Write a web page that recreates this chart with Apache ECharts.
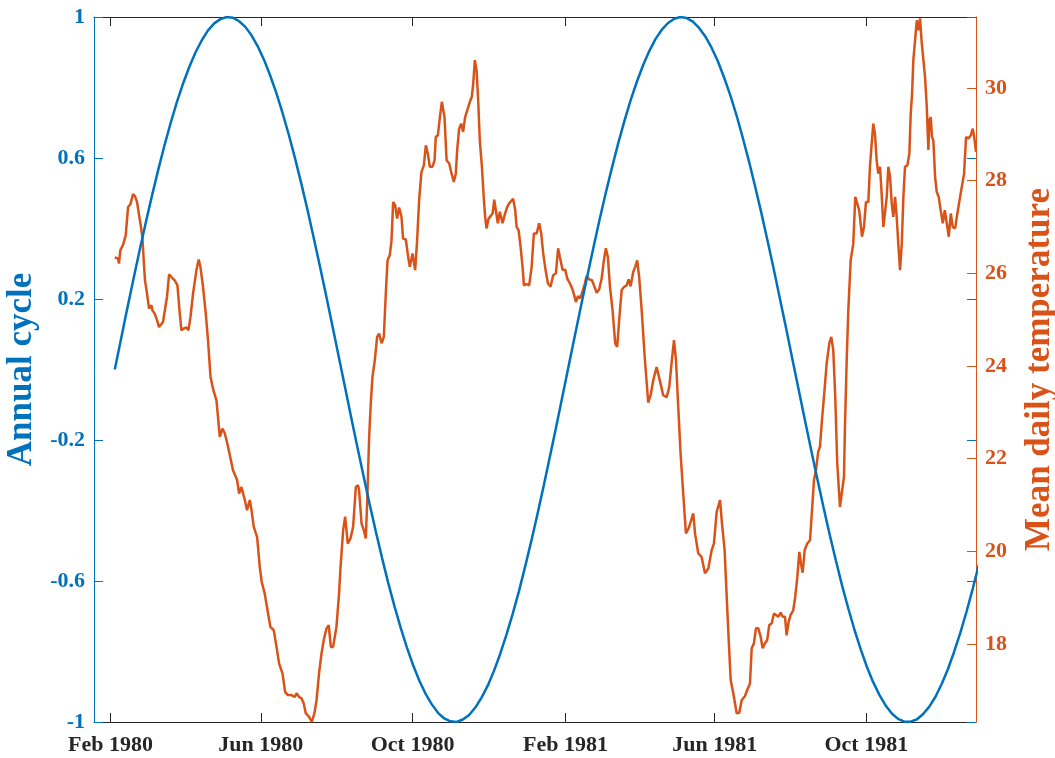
<!DOCTYPE html>
<html>
<head>
<meta charset="utf-8">
<title>Annual cycle vs mean daily temperature</title>
<script src="https://cdn.jsdelivr.net/npm/echarts@6/dist/echarts.min.js"></script>
<style>
	html, body { margin: 0; padding: 0; background: #fff; }
	#chart { width: 1055px; height: 758px; }
</style>
</head>
<body>
<div id="chart"></div>
<script>
// days are counted from 1 Feb 1980
var dayZero = Date.UTC(1980, 1, 1);
var DAY = 86400000;

// annual cycle, one reading every 5 days from day 3.5
var cycleStartDay = 3.5;
var cycleStepDays = 5;
var cycleValues = [
	0, 0.086, 0.172, 0.256, 0.338, 0.418, 0.494, 0.567, 0.636, 0.700,
	0.759, 0.812, 0.859, 0.900, 0.934, 0.962, 0.982, 0.994, 1.000, 0.998,
	0.988, 0.972, 0.948, 0.917, 0.879, 0.834, 0.784, 0.727, 0.666, 0.599,
	0.528, 0.453, 0.374, 0.293, 0.210, 0.125, 0.039, -0.047, -0.133, -0.218,
	-0.301, -0.382, -0.460, -0.535, -0.606, -0.672, -0.733, -0.789, -0.839, -0.883,
	-0.920, -0.950, -0.974, -0.990, -0.998, -1.000, -0.993, -0.980, -0.959, -0.931,
	-0.897, -0.855, -0.807, -0.753, -0.694, -0.630, -0.560, -0.487, -0.410, -0.330,
	-0.247, -0.163, -0.077, 0.009, 0.095, 0.180, 0.264, 0.346, 0.426, 0.502,
	0.574, 0.643, 0.706, 0.765, 0.817, 0.864, 0.904, 0.938, 0.964, 0.983,
	0.995, 1.000, 0.997, 0.987, 0.969, 0.945, 0.913, 0.875, 0.829, 0.779,
	0.722, 0.659, 0.592, 0.520, 0.445, 0.366, 0.285, 0.201, 0.116, 0.030,
	-0.056, -0.142, -0.226, -0.309, -0.390, -0.468, -0.542, -0.613, -0.678, -0.739,
	-0.794, -0.844, -0.887, -0.923, -0.953, -0.976, -0.991, -0.999, -0.999, -0.993,
	-0.978, -0.957, -0.929, -0.893, -0.851, -0.802, -0.748, -0.688, -0.623, -0.553
];

// mean daily temperature
var tempDays = [3.5,6.1,6.9,8.0,10.1,12.3,14.2,16.1,18.2,19.8,21.4,23.0,24.1,25.7,26.8,27.8,29.4,31.1,33.0,33.8,35.6,37.5,39.1,40.7,42.3,43.9,45.5,47.2,49.1,51.7,53.9,55.8,57.1,59.0,61.2,62.8,64.4,66.5,69.2,71.0,72.4,74.5,76.7,78.5,80.5,82.6,85.3,88.0,90.1,92.0,94.6,98.6,101.9,103.5,105.4,108.1,109.9,112.1,113.5,115.3,118.0,120.1,121.7,124.1,126.8,128.7,131.4,133.6,135.7,138.4,140.5,142.7,145.6,148.3,149.7,151.8,153.7,155.5,157.1,159.8,162.0,164.1,165.8,167.8,169.8,171.6,173.8,175.6,177.3,179.1,181.8,183.9,185.1,187.2,188.8,190.9,193.1,195.2,197.4,199.2,200.0,202.0,203.8,205.4,206.5,208.1,209.4,210.8,212.7,214.5,216.1,218.1,219.9,221.5,222.9,224.7,226.1,227.4,229.0,230.6,232.2,234.1,235.4,237.6,239.5,240.8,243.0,245.1,246.7,248.3,250.2,252.1,253.7,255.3,256.9,259.1,260.7,261.7,263.4,265.0,266.6,268.7,270.4,272.5,274.4,276.2,277.8,278.9,280.5,282.1,283.7,285.3,287.5,289.1,290.7,291.8,293.1,294.5,295.8,297.1,298.8,300.4,301.4,302.5,304.2,305.8,307.4,308.7,310.0,311.6,313.2,315.4,317.0,319.1,320.7,322.3,323.9,325.6,326.7,328.3,329.9,331.5,332.6,334.7,336.8,338.8,340.6,342.8,344.9,346.5,348.1,350.0,351.9,354.0,356.1,358.3,360.1,361.5,363.7,365.8,367.4,369.6,371.7,373.0,374.4,376.0,377.6,379.2,381.6,383.0,385.1,387.3,388.9,391.1,393.1,395.1,396.9,398.5,400.1,401.8,403.9,406.0,407.6,409.2,411.2,413.3,415.2,416.8,418.4,420.5,422.1,423.7,425.3,427.3,429.9,432.6,434.5,436.6,439.3,440.9,442.5,444.6,447.4,449.5,451.6,453.3,454.9,456.7,458.6,460.7,462.9,465.1,467.5,468.8,470.2,472.8,475.5,478.2,480.9,483.6,485.4,487.6,490.3,491.9,494.0,495.7,497.3,498.9,501.0,503.7,505.8,507.7,510.4,512.2,514.4,515.8,517.6,519.2,521.1,523.0,524.6,526.5,528.3,529.9,531.9,533.7,535.3,537.2,539.1,540.7,542.6,543.9,545.5,547.1,549.2,550.8,552.5,554.1,555.4,556.8,558.4,560.5,562.7,564.3,565.9,567.5,569.3,570.7,572.3,573.9,576.1,578.2,579.8,581.4,583.0,584.6,586.8,588.4,590.0,590.8,592.2,593.5,595.4,597.5,599.1,600.7,602.3,604.5,606.1,607.7,609.6,610.9,612.3,613.6,614.9,616.3,617.6,619.0,620.3,621.7,623.3,624.4,625.7,627.1,628.4,629.7,631.1,632.4,633.7,635.1,636.5,637.8,639.1,641.0,642.6,643.7,644.8,645.8,647.2,648.6,649.8,651.2,652.5,653.8,655.2,656.6,657.9,658.7,659.8,660.8,661.9,663.3,664.6,666.2,667.8,669.5,671.1,672.7,674.3,675.9,677.5,679.4,681.2,683.4,685.0,686.6,688.2,690.1,692.0,693.6,694.9,696.2];
var tempValues = [26.34,26.32,26.21,26.50,26.61,26.82,27.43,27.49,27.71,27.66,27.54,27.51,27.08,26.79,26.28,25.85,25.57,25.24,25.31,25.20,25.13,24.99,24.84,24.83,24.95,24.99,25.49,25.98,25.92,25.85,25.74,25.13,24.77,24.81,24.83,24.77,25.06,25.57,26.07,26.30,26.14,25.71,25.13,24.56,23.77,23.50,23.26,22.47,22.65,22.55,22.26,21.75,21.54,21.25,21.39,21.11,20.89,21.11,20.89,20.53,20.31,19.67,19.34,19.09,18.66,18.37,18.30,17.94,17.58,17.37,16.97,16.90,16.90,16.86,16.94,16.86,16.83,16.72,16.51,16.43,16.32,16.51,16.79,17.37,17.80,18.09,18.34,18.41,17.94,17.94,18.37,19.09,19.67,20.46,20.75,20.17,20.28,20.53,21.39,21.43,21.32,20.60,20.46,20.28,21.04,22.47,23.19,23.77,24.13,24.63,24.70,24.49,24.63,25.57,26.28,26.39,26.71,27.54,27.47,27.18,27.42,27.22,26.75,26.73,26.35,26.14,26.43,26.07,26.71,27.58,28.19,28.33,28.76,28.58,28.30,28.30,28.44,28.94,28.98,29.37,29.70,29.37,28.44,28.37,28.15,27.97,28.15,28.66,29.12,29.23,29.05,29.37,29.56,29.70,29.81,30.09,30.60,30.38,29.73,28.87,28.30,27.58,27.22,26.97,27.18,27.20,27.29,27.59,27.36,27.08,27.33,27.08,27.25,27.43,27.51,27.47,27.61,27.36,27.00,26.93,26.57,26.14,25.74,25.77,25.74,26.14,26.86,26.86,27.08,26.86,26.43,26.07,25.78,25.71,25.96,26.00,26.54,26.35,26.07,26.08,25.89,25.78,25.65,25.53,25.38,25.51,25.46,25.56,25.78,25.94,25.87,25.85,25.74,25.58,25.65,25.89,26.28,26.54,26.35,25.71,25.20,24.49,24.41,24.99,25.64,25.71,25.74,25.87,25.72,26.03,26.14,26.28,25.92,25.20,24.13,23.21,23.37,23.69,23.98,23.95,23.62,23.37,23.33,23.55,24.13,24.56,24.13,23.12,22.11,21.25,20.39,20.50,20.71,20.82,20.39,19.96,19.88,19.53,19.63,20.03,20.17,20.85,21.11,20.60,20.03,19.02,18.09,17.22,16.94,16.51,16.52,16.79,16.88,17.01,17.15,17.91,18.02,18.34,18.34,18.16,17.91,18.02,18.09,18.41,18.45,18.66,18.70,18.59,18.68,18.59,18.59,18.19,18.48,18.63,18.73,19.02,19.45,19.99,19.74,19.54,20.03,20.17,20.24,20.28,21.54,21.75,22.15,22.26,22.83,23.33,24.06,24.49,24.63,24.34,23.33,21.90,20.96,20.96,21.61,22.69,24.13,25.20,26.28,26.64,27.65,27.69,27.36,26.79,27.00,27.54,27.54,28.30,28.80,29.23,29.02,28.44,28.15,28.30,27.72,27.00,27.00,27.65,28.30,28.08,27.51,27.22,27.65,27.22,26.64,26.07,26.64,27.65,28.30,28.33,28.58,29.45,29.88,30.60,31.03,31.46,31.24,31.50,30.99,30.96,30.24,29.59,28.66,29.30,29.37,28.94,28.87,28.08,27.76,27.65,27.36,27.08,27.36,27.08,26.79,27.29,27.00,26.97,27.29,27.65,27.69,28.15,28.94,28.91,28.98,29.12,28.91,28.62];

// tick labels
var monthNames = ['Jan','Feb','Mar','Apr','May','Jun','Jul','Aug','Sep','Oct','Nov','Dec'];
var xTickDates = [[1980,1],[1980,5],[1980,9],[1981,1],[1981,5],[1981,9]];
var cycleTicks = [-1, -0.6, -0.2, 0.2, 0.6, 1];
var tempTicks = [18, 20, 22, 24, 26, 28, 30];

var BLUE = '#0072BD';
var ORANGE = '#D95319';
var DARK = '#262626';
var FONT = 'Liberation Serif';

function dayToTime(d) {
	return dayZero + d * DAY;
}

function buildCycleData() {
	var out = [];
	for (var i = 0; i < cycleValues.length; i++) {
		out.push([dayToTime(cycleStartDay + i * cycleStepDays), cycleValues[i]]);
	}
	return out;
}

function buildTempData() {
	var out = [];
	for (var i = 0; i < tempDays.length; i++) {
		out.push([dayToTime(tempDays[i]), tempValues[i]]);
	}
	return out;
}

function xTicks() {
	return xTickDates.map(function (p) { return Date.UTC(p[0], p[1], 1); });
}

function labelFont(color, size) {
	return { color: color, fontFamily: FONT, fontWeight: 'bold', fontSize: size };
}

var chart = echarts.init(document.getElementById('chart'), null, { renderer: 'canvas' });

// x runs on plain millisecond values so the month ticks can be placed exactly
var xMin = dayToTime(-13.2);
var xMax = dayToTime(696.2);

var option = {
	backgroundColor: '#fff',
	animation: false,
	grid: { left: 94, right: 79, top: 17, bottom: 36, containLabel: false, outerBoundsMode: 'none' },
	xAxis: [
		{
			type: 'value',
			position: 'bottom',
			min: xMin,
			max: xMax,
			splitLine: { show: false },
			axisLine: { onZero: false, lineStyle: { color: DARK, width: 1 } },
			axisTick: { inside: true, length: 9, customValues: xTicks(), lineStyle: { color: DARK } },
			axisLabel: Object.assign(labelFont(DARK, 22), {
				margin: 12,
				customValues: xTicks(),
				formatter: function (v) {
					var d = new Date(v);
					return monthNames[d.getUTCMonth()] + ' ' + d.getUTCFullYear();
				}
			})
		},
		{
			type: 'value',
			position: 'top',
			min: xMin,
			max: xMax,
			splitLine: { show: false },
			axisLine: { onZero: false, lineStyle: { color: DARK, width: 1 } },
			axisTick: { inside: true, length: 9, customValues: xTicks(), lineStyle: { color: DARK } },
			axisLabel: { show: false }
		}
	],
	yAxis: [
		{
			type: 'value',
			position: 'left',
			min: -1,
			max: 1,
			name: 'Annual cycle',
			nameLocation: 'middle',
			nameRotate: 90,
			nameGap: 45,
			nameTextStyle: labelFont(BLUE, 35),
			splitLine: { show: false },
			axisLine: { show: true, onZero: false, lineStyle: { color: BLUE, width: 1 } },
			axisTick: { show: true, inside: true, length: 9, customValues: cycleTicks, lineStyle: { color: BLUE } },
			axisLabel: Object.assign(labelFont(BLUE, 22), { margin: 9, customValues: cycleTicks })
		},
		{
			type: 'value',
			position: 'right',
			min: 16.32,
			max: 31.53,
			name: 'Mean daily temperature',
			nameLocation: 'middle',
			nameRotate: 90,
			nameGap: 46,
			nameTextStyle: labelFont(ORANGE, 35),
			splitLine: { show: false },
			axisLine: { show: true, onZero: false, lineStyle: { color: ORANGE, width: 1 } },
			axisTick: { show: true, inside: true, length: 9, customValues: tempTicks, lineStyle: { color: ORANGE } },
			axisLabel: Object.assign(labelFont(ORANGE, 22), { margin: 9, customValues: tempTicks })
		},
		{
			// left ticks repeated on the right edge
			type: 'value',
			position: 'right',
			min: -1,
			max: 1,
			splitLine: { show: false },
			axisLine: { show: false, onZero: false },
			axisTick: { show: true, inside: true, length: 9, customValues: cycleTicks, lineStyle: { color: BLUE } },
			axisLabel: { show: false }
		}
	],
	series: [
		{
			name: 'Annual cycle',
			type: 'line',
			xAxisIndex: 0,
			yAxisIndex: 0,
			data: buildCycleData(),
			showSymbol: false,
			lineStyle: { color: BLUE, width: 2.5 },
			z: 3
		},
		{
			name: 'Mean daily temperature',
			type: 'line',
			xAxisIndex: 0,
			yAxisIndex: 1,
			data: buildTempData(),
			showSymbol: false,
			lineStyle: { color: ORANGE, width: 2.5 },
			z: 2
		}
	]
};

chart.setOption(option);
</script>
</body>
</html>
